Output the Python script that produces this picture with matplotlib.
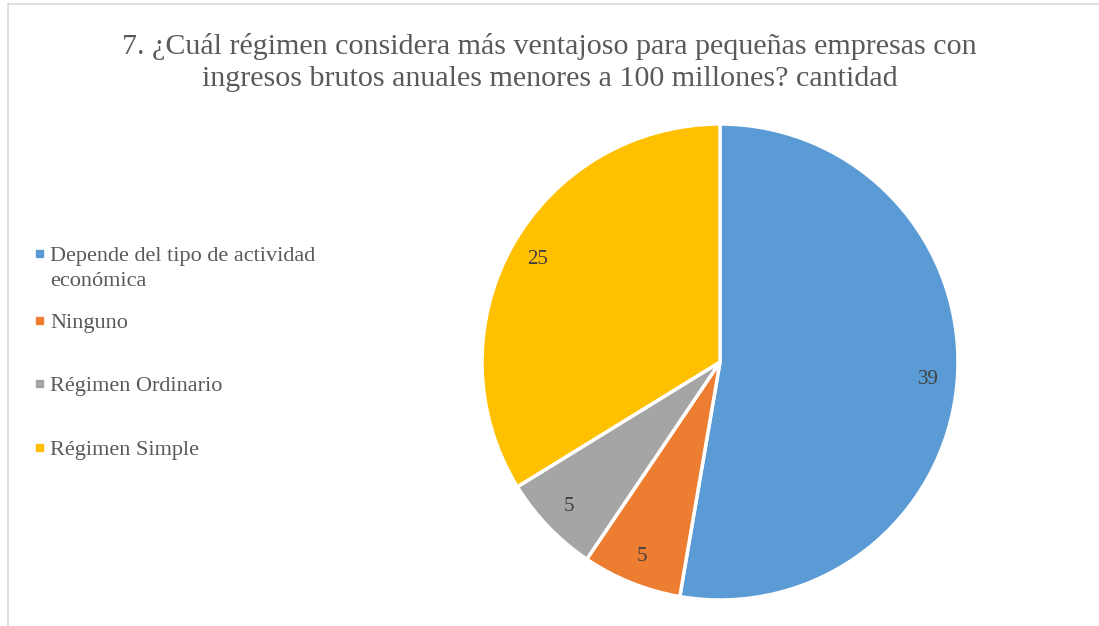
import matplotlib.pyplot as plt
from matplotlib.lines import Line2D
from matplotlib.patches import Rectangle

# datos del gráfico
categorias = ["Depende del tipo de actividad\neconómica", "Ninguno",
              "Régimen Ordinario", "Régimen Simple"]
cantidades = [39, 5, 5, 25]
colores = ["#5B9BD5", "#ED7D31", "#A5A5A5", "#FFC000"]
titulo = ("7. ¿Cuál régimen considera más ventajoso para pequeñas empresas con\n"
          "ingresos brutos anuales menores a 100 millones? cantidad")

plt.rcParams['font.family'] = ['Liberation Serif', 'DejaVu Serif']

W, H = 1099, 626
fig = plt.figure(figsize=(W / 100, H / 100), dpi=100)

# borde del área del gráfico
fig.add_artist(Line2D([8 / W, 8 / W], [0, 1 - 4 / H], color="#D9D9D9", lw=1.2))
fig.add_artist(Line2D([8 / W, 1], [1 - 4 / H, 1 - 4 / H], color="#D9D9D9", lw=1.2))

# centro del pastel ~ (720, 362) px, radio ~238 px
cx, cy, r = 720, 362, 238
ax = fig.add_axes([(cx - r) / W, (H - cy - r) / H, 2 * r / W, 2 * r / H])
wedges, textos, autotextos = ax.pie(
    cantidades, colors=colores, startangle=90, counterclock=False,
    autopct=lambda p: f"{round(p * sum(cantidades) / 100):d}",
    pctdistance=0.88, wedgeprops=dict(edgecolor="white", linewidth=2.5),
    textprops=dict(color="#404040", fontsize=15))
ax.set_xlim(-1, 1)
ax.set_ylim(-1, 1)
ax.set_aspect("equal")
ax.axis("off")

fig.text(0.5, 1 - 62 / H, titulo, ha="center", va="center",
         fontsize=21.6, color="#595959", linespacing=1.3)

# leyenda a la izquierda (posiciones en px del primer renglón de cada entrada)
ley_y = [253, 320, 383, 447]
for etiqueta, color, y in zip(categorias, colores, ley_y):
    fig.add_artist(Rectangle((36 / W, 1 - (y + 3.5) / H), 7 / W, 7 / H,
                             color=color, transform=fig.transFigure))
    fig.text(50 / W, 1 - (y - 6) / H, etiqueta, ha="left", va="top",
             fontsize=16, color="#595959", linespacing=1.4)

fig.savefig("out.png", dpi=100)
